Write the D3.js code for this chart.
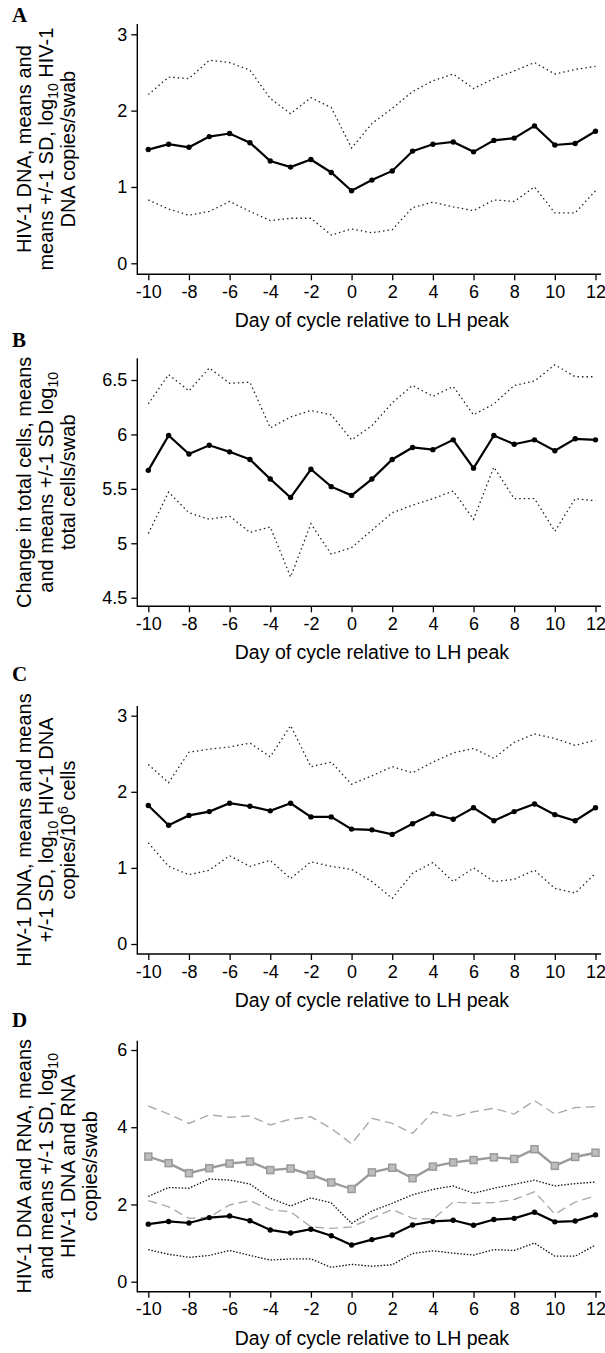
<!DOCTYPE html>
<html><head><meta charset="utf-8">
<script src="https://cdn.jsdelivr.net/npm/d3@7"></script>
<style>
body{margin:0;background:#fff}
svg{display:block}
text{font-family:"Liberation Sans",Arial,Helvetica,sans-serif;fill:#000}
</style>
</head><body>
<svg id="chart" width="605" height="1353"></svg>
<script>
// ---------- data ----------
const days = [-10,-9,-8,-7,-6,-5,-4,-3,-2,-1,0,1,2,3,4,5,6,7,8,9,10,11,12];
const xTicks = [-10,-8,-6,-4,-2,0,2,4,6,8,10,12];

// Panel A (and D): HIV-1 DNA copies/swab
const dnaMean  = [1.49,1.56,1.52,1.66,1.70,1.58,1.34,1.26,1.36,1.19,0.95,1.09,1.21,1.47,1.56,1.59,1.46,1.61,1.64,1.80,1.55,1.57,1.73];
const dnaUpper = [2.21,2.44,2.42,2.66,2.63,2.53,2.16,1.96,2.17,2.04,1.51,1.83,2.03,2.25,2.39,2.48,2.29,2.42,2.52,2.63,2.48,2.54,2.58];
const dnaLower = [0.83,0.71,0.63,0.68,0.81,0.68,0.56,0.59,0.59,0.37,0.45,0.40,0.44,0.73,0.80,0.74,0.69,0.83,0.81,1.00,0.66,0.66,0.95];

// Panel B: total cells/swab
const cellMean  = [5.67,5.99,5.82,5.90,5.84,5.77,5.59,5.42,5.68,5.52,5.44,5.59,5.77,5.88,5.86,5.95,5.69,5.99,5.91,5.95,5.85,5.96,5.95];
const cellUpper = [6.28,6.55,6.40,6.61,6.47,6.48,6.06,6.16,6.22,6.18,5.95,6.08,6.29,6.45,6.35,6.44,6.18,6.28,6.45,6.49,6.64,6.53,6.53];
const cellLower = [5.09,5.47,5.28,5.22,5.25,5.10,5.15,4.69,5.18,4.90,4.96,5.12,5.28,5.35,5.41,5.48,5.22,5.70,5.41,5.41,5.11,5.41,5.39];

// Panel C: HIV-1 DNA copies/10^6 cells
const perCellMean  = [1.82,1.56,1.69,1.74,1.85,1.81,1.75,1.85,1.67,1.67,1.51,1.50,1.44,1.58,1.71,1.64,1.79,1.62,1.74,1.84,1.70,1.62,1.79];
const perCellUpper = [2.36,2.12,2.52,2.56,2.59,2.64,2.46,2.87,2.33,2.39,2.10,2.21,2.33,2.25,2.39,2.51,2.57,2.44,2.65,2.76,2.70,2.61,2.68];
const perCellLower = [1.33,1.02,0.91,0.97,1.16,1.02,1.10,0.86,1.08,1.02,0.98,0.82,0.60,0.93,1.07,0.82,1.00,0.82,0.85,0.97,0.73,0.67,0.93];

// Panel D: HIV-1 RNA copies/swab
const rnaMean  = [3.24,3.07,2.81,2.94,3.06,3.11,2.89,2.93,2.77,2.57,2.40,2.83,2.95,2.68,2.98,3.09,3.15,3.22,3.18,3.43,3.00,3.23,3.34];
const rnaUpper = [4.55,4.34,4.10,4.32,4.26,4.29,4.06,4.21,4.27,3.97,3.57,4.23,4.10,3.84,4.40,4.27,4.40,4.49,4.34,4.69,4.34,4.51,4.53];
const rnaLower = [2.10,1.94,1.64,1.67,1.99,2.10,1.86,1.81,1.42,1.38,1.42,1.64,1.87,1.64,1.62,2.06,2.03,2.05,2.13,2.33,1.75,2.06,2.23];

// Tick labels
const ticksA = [0,1,2,3];
const ticksB = [4.5,5,5.5,6,6.5];
const ticksC = [0,1,2,3];
const ticksD = [0,2,4,6];

const xTitle = "Day of cycle relative to LH peak";
// y titles: each line a list of [text, mode] segments
const titleA = [
  [["HIV-1 DNA, means and",""]],
  [["means +/-1 SD, log",""],["10","sub"],[" HIV-1",""]],
  [["DNA copies/swab",""]]
];
const titleB = [
  [["Change in total cells, means",""]],
  [["and means +/-1 SD log",""],["10","sub"]],
  [["total cells/swab",""]]
];
const titleC = [
  [["HIV-1 DNA, means and means",""]],
  [["+/-1 SD, log",""],["10","sub"],[" HIV-1 DNA",""]],
  [["copies/10",""],["6","sup"],[" cells",""]]
];
const titleD = [
  [["HIV-1 DNA and RNA, means",""]],
  [["and means +/-1 SD, log",""],["10","sub"]],
  [["HIV-1 DNA and RNA",""]],
  [["copies/swab",""]]
];

// ---------- layout ----------
const svg = d3.select("#chart");
const xLeft = 137.3, xRight = 601;
const x = d3.scaleLinear().domain([-10, 12]).range([148.3, 595.5]);

const panels = [
  {letter:"A", letterY:22, top:24, bottom:274.3, dom:[0,3], rng:[263.3,34.3], ticks:ticksA, title:titleA,
   series:[{v:dnaUpper,s:"sd"},{v:dnaLower,s:"sd"},{v:dnaMean,s:"mean"}]},
  {letter:"B", letterY:347, top:358.3, bottom:606.3, dom:[4.5,6.5], rng:[597.7,380], ticks:ticksB, title:titleB,
   series:[{v:cellUpper,s:"sd"},{v:cellLower,s:"sd"},{v:cellMean,s:"mean"}]},
  {letter:"C", letterY:681, top:706, bottom:954, dom:[0,3], rng:[944,715.7], ticks:ticksC, title:titleC,
   series:[{v:perCellUpper,s:"sd"},{v:perCellLower,s:"sd"},{v:perCellMean,s:"mean"}]},
  {letter:"D", letterY:1027, top:1040.7, bottom:1291.7, dom:[0,6], rng:[1281.7,1050], ticks:ticksD, title:titleD,
   series:[{v:rnaUpper,s:"rnaSd"},{v:rnaLower,s:"rnaSd"},{v:rnaMean,s:"rnaMean"},
           {v:dnaUpper,s:"sdD"},{v:dnaLower,s:"sdD"},{v:dnaMean,s:"mean"}]}
];

panels.forEach(p => {
  const y = d3.scaleLinear().domain(p.dom).range(p.rng);
  const g = svg.append("g");

  // panel letter
  g.append("text").attr("x", 12).attr("y", p.letterY)
    .style("font-family", '"Liberation Serif","Times New Roman",serif')
    .style("font-weight", "bold").style("font-size", "21px").text(p.letter);

  // L-shaped frame
  g.append("path")
    .attr("d", `M${xLeft},${p.top}V${p.bottom}H${xRight}`)
    .attr("fill", "none").attr("stroke", "#000").attr("stroke-width", 1.4);

  // y axis ticks
  const yAxis = d3.axisLeft(y).tickValues(p.ticks).tickSize(6).tickPadding(4)
    .tickFormat(d => String(d));
  const ya = g.append("g").attr("transform", `translate(${xLeft},0)`).call(yAxis);
  ya.select(".domain").remove();
  ya.selectAll("line").attr("stroke", "#000").attr("stroke-width", 1.3);
  ya.selectAll("text").style("font-size", "18px").style("font-family", '"Liberation Sans",Arial,sans-serif');

  // x axis ticks
  const xAxis = d3.axisBottom(x).tickValues(xTicks).tickSize(6).tickPadding(5)
    .tickFormat(d => String(d));
  const xa = g.append("g").attr("transform", `translate(0,${p.bottom})`).call(xAxis);
  xa.select(".domain").remove();
  xa.selectAll("line").attr("stroke", "#000").attr("stroke-width", 1.3);
  xa.selectAll("text").style("font-size", "18px").style("font-family", '"Liberation Sans",Arial,sans-serif');

  // x title
  g.append("text").attr("x", (x(-10) + x(12)) / 2).attr("y", p.bottom + 53)
    .attr("text-anchor", "middle").style("font-size", "19.5px").text(xTitle);

  // y title (rotated)
  const cy = (p.top + p.bottom) / 2;
  const baselines = [31, 53, 75, 97];
  p.title.forEach((line, i) => {
    const t = g.append("text")
      .attr("transform", `translate(${baselines[i]},${cy}) rotate(-90)`)
      .attr("text-anchor", "middle").style("font-size", "20px");
    line.forEach(([txt, mode]) => {
      const ts = t.append("tspan").text(txt);
      if (mode === "sub") ts.attr("dy", 5).style("font-size", "14px");
      else if (mode === "sup") ts.attr("dy", -7).style("font-size", "14px");
    });
    // reset baseline after sub/sup segments
    let offset = 0;
    t.selectAll("tspan").each(function(_, k) {
      const seg = line[k];
      const el = d3.select(this);
      if (seg[1] === "sub") offset = 5;
      else if (seg[1] === "sup") offset = -7;
      else if (offset !== 0) { el.attr("dy", -offset); offset = 0; }
    });
  });

  // series
  const lineGen = d3.line().x((d, i) => x(days[i])).y(d => y(d));
  p.series.forEach(s => {
    const path = g.append("path").datum(s.v).attr("d", lineGen).attr("fill", "none");
    if (s.s === "sd") {
      path.attr("stroke", "#222").attr("stroke-width", 1.3).attr("stroke-dasharray", "1.5,3");
    } else if (s.s === "sdD") {
      path.attr("stroke", "#111").attr("stroke-width", 1.3).attr("stroke-dasharray", "1.5,1.7");
    } else if (s.s === "rnaSd") {
      path.attr("stroke", "#aaa").attr("stroke-width", 1.4).attr("stroke-dasharray", "9,5");
    } else if (s.s === "rnaMean") {
      path.attr("stroke", "#9a9a9a").attr("stroke-width", 2.4);
      g.selectAll(null).data(s.v).enter().append("rect")
        .attr("x", (d, i) => x(days[i]) - 3.5).attr("y", d => y(d) - 3.5)
        .attr("width", 7).attr("height", 7)
        .attr("fill", "#bdbdbd").attr("stroke", "#9a9a9a").attr("stroke-width", 1.5);
    } else if (s.s === "mean") {
      path.attr("stroke", "#000").attr("stroke-width", 2.2);
      g.selectAll(null).data(s.v).enter().append("circle")
        .attr("cx", (d, i) => x(days[i])).attr("cy", d => y(d)).attr("r", 2.7)
        .attr("fill", "#000");
    }
  });
});
</script>
</body></html>
